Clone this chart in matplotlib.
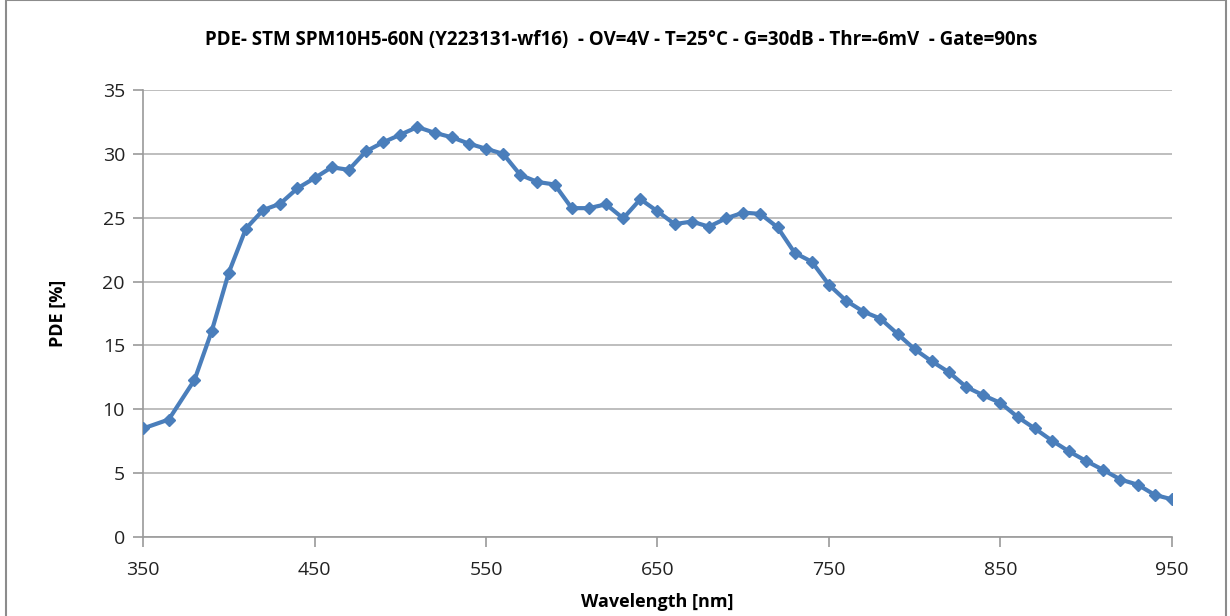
import matplotlib.pyplot as plt
from matplotlib.patches import Rectangle

wavelength = [350, 365, 380, 390, 400, 410, 420, 430, 440, 450, 460, 470, 480, 490,
              500, 510, 520, 530, 540, 550, 560, 570, 580, 590, 600, 610, 620, 630,
              640, 650, 660, 670, 680, 690, 700, 710, 720, 730, 740, 750, 760, 770,
              780, 790, 800, 810, 820, 830, 840, 850, 860, 870, 880, 890, 900, 910,
              920, 930, 940, 950]
pde = [8.5, 9.2, 12.3, 16.1, 20.7, 24.15, 25.6, 26.1, 27.3, 28.1, 28.95, 28.75, 30.2, 30.9,
       31.5, 32.1, 31.65, 31.3, 30.8, 30.4, 30.0, 28.35, 27.8, 27.6, 25.75, 25.75, 26.05, 24.95,
       26.45, 25.5, 24.5, 24.7, 24.3, 24.95, 25.4, 25.3, 24.25, 22.25, 21.55, 19.75, 18.5, 17.65,
       17.1, 15.9, 14.7, 13.75, 12.9, 11.75, 11.1, 10.5, 9.4, 8.5, 7.55, 6.7, 5.95, 5.25,
       4.5, 4.1, 3.3, 2.95]
xticks = [350, 450, 550, 650, 750, 850, 950]
yticks = [0, 5, 10, 15, 20, 25, 30, 35]

title = ('PDE- STM SPM10H5-60N (Y223131-wf16)  - OV=4V - T=25\u00b0C - G=30dB - '
         'Thr=-6mV  - Gate=90ns')

plt.rcParams['font.family'] = ['Open Sans', 'DejaVu Sans']

fig = plt.figure(figsize=(12.3, 6.16), dpi=100)
fig.patches.append(Rectangle((0.005, -0.05), 0.992, 1.05, transform=fig.transFigure,
                             fill=False, edgecolor='#8c8c8c', linewidth=1.5))
ax = fig.add_axes([0.1163, 0.1282, 0.8365, 0.7257])

ax.plot(wavelength, pde, color='#4a7ebb', linewidth=3.0, marker='D', markersize=6.5,
        markeredgecolor='#4a7ebb', markerfacecolor='#4a7ebb', zorder=3)

ax.set_xlim(350, 950)
ax.set_ylim(0, 35)
ax.set_xticks(xticks)
ax.set_yticks(yticks)
ax.yaxis.grid(True, color='#b3b3b3', linewidth=1.2)
ax.set_axisbelow(True)
for s in ['top', 'right']:
    ax.spines[s].set_visible(False)
for s in ['left', 'bottom']:
    ax.spines[s].set_color('#9a9a9a')
    ax.spines[s].set_linewidth(1.2)
ax.tick_params(axis='both', direction='out', length=7, width=1.2, color='#9a9a9a',
               labelsize=14, labelcolor='#222222')
ax.tick_params(axis='x', pad=10)
ax.tick_params(axis='y', pad=6)

ax.set_xlabel('Wavelength [nm]', fontsize=13, fontweight='bold', labelpad=10)
ax.set_ylabel('PDE [%]', fontsize=13, fontweight='bold', labelpad=26)
fig.text(0.505, 0.935, title, ha='center', va='center', fontsize=13.5, fontweight='bold')

fig.savefig('out.png', dpi=100)
